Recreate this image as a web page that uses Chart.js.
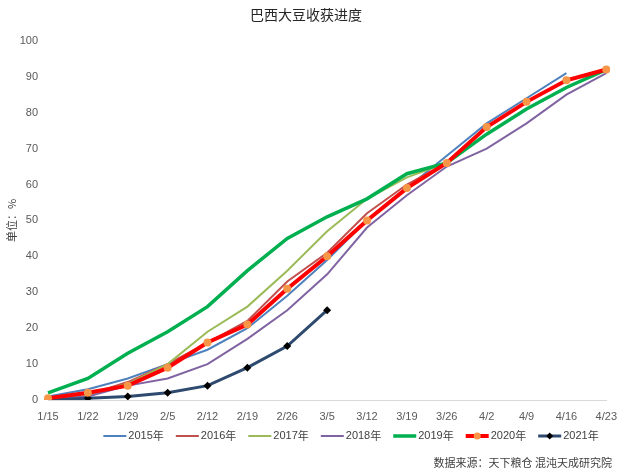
<!DOCTYPE html>
<html>
<head>
<meta charset="utf-8">
<script src="https://cdn.jsdelivr.net/npm/chart.js@4.4.1/dist/chart.umd.min.js"></script>
<style>
  html, body { margin: 0; padding: 0; background: #fff; }
  #wrap { width: 619px; height: 476px; }
</style>
</head>
<body>
<div id="wrap"><canvas id="harvestChart"></canvas></div>
<script>
// 巴西大豆收获进度 (%)
const weeks = ["1/15", "1/22", "1/29", "2/5", "2/12", "2/19", "2/26", "3/5", "3/12", "3/19", "3/26", "4/2", "4/9", "4/16", "4/23"];
const yTicks = [0, 10, 20, 30, 40, 50, 60, 70, 80, 90, 100];

const y2015 = [1, 3, 6, 10, 14, 20, 29, 39, 50, 59, 68, 77, 84, 91, null];
const y2016 = [0.5, 1.5, 5, 10, 16, 22, 33, 41, 52, 60, 66, 76, 83, 89, null];
const y2017 = [0.5, 1.5, 4.5, 10, 19, 26, 36, 47, 56, 62, 66, 74, 81, 87, 92];
const y2018 = [0.3, 1, 4, 6, 10, 17, 25, 35, 48, 57, 65, 70, 77, 85, 91];
const y2019 = [2, 6, 13, 19, 26, 36, 45, 51, 56, 63, 66, 74, 81, 87, 92];
const y2020 = [0.5, 2, 4, 9, 16, 21, 31, 40, 50, 59, 66, 76, 83, 89, 92];
const y2021 = [0, 0.5, 1, 2, 4, 9, 15, 25, null, null, null, null, null, null, null];

const FONT = "'Liberation Sans', Arial, sans-serif";
const CJK = "'Noto Sans CJK SC', sans-serif";

function thinLine(label, data, color, order) {
  return {
    label: label,
    data: data,
    borderColor: color,
    backgroundColor: color,
    borderWidth: 2,
    pointRadius: 0,
    tension: 0,
    order: order,
  };
}

// legend + source drawn by hand so the markers sit on the legend lines
const bottomText = {
  id: "bottomText",
  afterDraw(chart) {
    const ctx = chart.ctx;
    const sets = chart.data.datasets;
    ctx.save();
    ctx.font = "11px " + FONT;
    const lineLen = 23;
    const gap = 2;
    const spacing = 12;
    let widths = sets.map((ds) => lineLen + gap + ctx.measureText(ds.label).width);
    let total = widths.reduce((a, b) => a + b, 0) + spacing * (sets.length - 1);
    let x = 351 - total / 2;
    const y = 436;
    sets.forEach((ds, i) => {
      ctx.strokeStyle = ds.borderColor;
      ctx.lineWidth = ds.borderWidth;
      ctx.beginPath();
      ctx.moveTo(x, y);
      ctx.lineTo(x + lineLen, y);
      ctx.stroke();
      if (ds.pointRadius > 0) {
        const cx = x + lineLen / 2;
        ctx.fillStyle = ds.pointBackgroundColor;
        ctx.beginPath();
        if (ds.pointStyle === "rectRot") {
          const r = 3.5;
          ctx.moveTo(cx, y - r);
          ctx.lineTo(cx + r, y);
          ctx.lineTo(cx, y + r);
          ctx.lineTo(cx - r, y);
          ctx.closePath();
        } else {
          ctx.arc(cx, y, 3.5, 0, Math.PI * 2);
        }
        ctx.fill();
      }
      ctx.fillStyle = "#404040";
      ctx.textBaseline = "middle";
      ctx.textAlign = "left";
      ctx.font = "11px " + FONT;
      ctx.fillText(ds.label.replace("年", ""), x + lineLen + gap, y);
      const numW = ctx.measureText(ds.label.replace("年", "")).width;
      ctx.font = "11px " + CJK;
      ctx.fillText("年", x + lineLen + gap + numW, y);
      x += widths[i] + spacing;
    });
    ctx.font = "11px " + CJK;
    ctx.fillStyle = "#404040";
    ctx.textAlign = "right";
    ctx.fillText("数据来源：天下粮仓 混沌天成研究院", 612, 463);
    ctx.restore();
  },
};

const ctxLine = document.getElementById("harvestChart");
const harvestChart = new Chart(ctxLine, {
  type: "line",
  data: {
    labels: weeks,
    datasets: [
      thinLine("2015年", y2015, "#4F81BD", 6),
      thinLine("2016年", y2016, "#C0504D", 5),
      thinLine("2017年", y2017, "#9BBB59", 4),
      thinLine("2018年", y2018, "#8064A2", 3),
      {
        label: "2019年",
        data: y2019,
        borderColor: "#00B050",
        backgroundColor: "#00B050",
        borderWidth: 3.5,
        pointRadius: 0,
        order: 2,
      },
      {
        label: "2020年",
        data: y2020,
        borderColor: "#FF0000",
        backgroundColor: "#FF0000",
        borderWidth: 4,
        pointRadius: 4,
        pointStyle: "circle",
        pointBackgroundColor: "#F79646",
        pointBorderColor: "#F79646",
        pointBorderWidth: 0,
        order: 0,
      },
      {
        label: "2021年",
        data: y2021,
        borderColor: "#2E4A6E",
        backgroundColor: "#2E4A6E",
        borderWidth: 3,
        pointRadius: 4,
        pointStyle: "rectRot",
        pointBackgroundColor: "#000000",
        pointBorderColor: "#000000",
        pointBorderWidth: 0,
        order: 1,
      },
    ],
  },
  options: {
    responsive: true,
    maintainAspectRatio: false,
    animation: false,
    layout: {
      padding: { top: 0, right: 7, bottom: 56, left: 0 },
    },
    plugins: {
      legend: { display: false },
      tooltip: { enabled: false },
      title: {
        display: true,
        text: "巴西大豆收获进度",
        color: "#262626",
        font: { family: CJK, size: 14, weight: "normal" },
        padding: { top: 6, bottom: 18 },
      },
    },
    scales: {
      x: {
        type: "category",
        offset: false,
        grid: { display: false },
        border: { display: true, color: "#D9D9D9", width: 1 },
        ticks: {
          autoSkip: false,
          maxRotation: 0,
          color: "#595959",
          padding: 2,
          font: { family: FONT, size: 11 },
        },
        afterFit(scale) {
          scale.height = 20;
        },
      },
      y: {
        min: 0,
        max: 100,
        grid: { display: false },
        border: { display: false },
        afterBuildTicks(scale) {
          scale.ticks = yTicks.map((v) => ({ value: v }));
        },
        ticks: {
          color: "#595959",
          padding: 2,
          font: { family: FONT, size: 11 },
        },
        title: {
          display: true,
          text: "单位：%",
          color: "#404040",
          font: { family: CJK, size: 11 },
          padding: { top: 5, bottom: 0 },
        },
        afterFit(scale) {
          scale.width = 48;
        },
      },
    },
  },
  plugins: [bottomText],
});
</script>
</body>
</html>
